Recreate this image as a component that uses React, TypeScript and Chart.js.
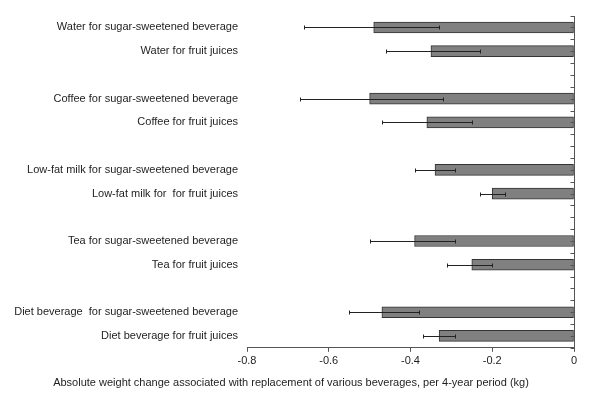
import React, { useEffect, useRef } from "react";
import { Chart, registerables } from "chart.js";

Chart.register(...registerables);

const categories: string[] = [
  "Water for sugar-sweetened beverage",
  "Water for fruit juices",
  "",
  "Coffee for sugar-sweetened beverage",
  "Coffee for fruit juices",
  "",
  "Low-fat milk for sugar-sweetened beverage",
  "Low-fat milk for  for fruit juices",
  "",
  "Tea for sugar-sweetened beverage",
  "Tea for fruit juices",
  "",
  "Diet beverage  for sugar-sweetened beverage",
  "Diet beverage for fruit juices",
];

const weightChange: (number | null)[] = [
  -0.49, -0.35, null, -0.5, -0.36, null, -0.34, -0.2, null, -0.39, -0.25, null, -0.47, -0.33,
];
const ciLower: (number | null)[] = [
  -0.66, -0.46, null, -0.67, -0.47, null, -0.39, -0.23, null, -0.5, -0.31, null, -0.55, -0.37,
];
const ciUpper: (number | null)[] = [
  -0.33, -0.23, null, -0.32, -0.25, null, -0.29, -0.17, null, -0.29, -0.2, null, -0.38, -0.29,
];

const xTitle =
  "Absolute weight change associated with replacement of various beverages, per 4-year period (kg)";

const FONT = "'Liberation Sans', Arial, sans-serif";
const TEXT = "#1e1e1e";
const AXIS = "#555555";

const errorBarPlugin = {
  id: "errorBars",
  afterDatasetsDraw(chart: any) {
    const ctx = chart.ctx;
    const xs = chart.scales.x;
    const ys = chart.scales.y;
    ctx.save();
    ctx.strokeStyle = "#222222";
    ctx.lineWidth = 1;
    for (let i = 0; i < categories.length; i++) {
      const lo = ciLower[i];
      const hi = ciUpper[i];
      if (lo === null || hi === null) continue;
      const y = Math.round(ys.getPixelForValue(i)) + 0.5;
      const x1 = Math.round(xs.getPixelForValue(lo)) + 0.5;
      const x2 = Math.round(xs.getPixelForValue(hi)) + 0.5;
      ctx.beginPath();
      ctx.moveTo(x1, y);
      ctx.lineTo(x2, y);
      ctx.moveTo(x1, y - 2);
      ctx.lineTo(x1, y + 2);
      ctx.moveTo(x2, y - 2);
      ctx.lineTo(x2, y + 2);
      ctx.stroke();
    }
    ctx.restore();
  },
  afterDraw(chart: any) {
    // vertical category axis at x = 0 with inward tick marks
    const ctx = chart.ctx;
    const xs = chart.scales.x;
    const ys = chart.scales.y;
    const x0 = Math.round(xs.getPixelForValue(0)) + 0.5;
    const top = ys.top;
    const bottom = ys.bottom;
    const n = categories.length;
    const h = (bottom - top) / n;
    ctx.save();
    ctx.strokeStyle = AXIS;
    ctx.lineWidth = 1;
    ctx.beginPath();
    ctx.moveTo(x0, Math.round(top));
    ctx.lineTo(x0, Math.round(bottom));
    for (let k = 0; k <= n * 2; k++) {
      const y = Math.round(top + (k * h) / 2) + 0.5;
      ctx.moveTo(x0 - 4, y);
      ctx.lineTo(x0, y);
    }
    ctx.stroke();
    ctx.restore();
  },
};

export default function App() {
  const canvasRef = useRef<HTMLCanvasElement | null>(null);

  useEffect(() => {
    if (!canvasRef.current) return;
    const chart = new Chart(canvasRef.current, {
      type: "bar",
      data: {
        labels: categories,
        datasets: [
          {
            data: weightChange as any,
            backgroundColor: "#808080",
            borderColor: "#333333",
            borderWidth: 1,
            borderSkipped: false,
            barThickness: 11,
          },
        ],
      },
      options: {
        indexAxis: "y",
        animation: false,
        responsive: true,
        maintainAspectRatio: false,
        layout: { padding: { top: 14, right: 28, left: 8, bottom: 0 } },
        plugins: {
          legend: { display: false },
          tooltip: { enabled: false },
          title: {
            display: true,
            position: "bottom",
            text: xTitle,
            color: TEXT,
            font: { family: FONT, size: 11, weight: "normal" },
            padding: { top: 4, bottom: 15 },
          },
        },
        scales: {
          x: {
            type: "linear",
            min: -0.8,
            max: 0,
            ticks: {
              stepSize: 0.2,
              color: TEXT,
              font: { family: FONT, size: 11 },
              padding: 3,
            },
            grid: { drawOnChartArea: false, tickLength: 4, color: AXIS },
            border: { color: AXIS },
            afterFit(scale: any) {
              scale.height = 25;
            },
          },
          y: {
            type: "category",
            position: "left",
            grid: { display: false, drawTicks: false },
            border: { display: false },
            ticks: {
              color: TEXT,
              font: { family: FONT, size: 11 },
              padding: 9,
              autoSkip: false,
            },
            afterFit(scale: any) {
              scale.width = 239;
            },
          },
        },
      },
      plugins: [errorBarPlugin],
    });
    return () => chart.destroy();
  }, []);

  return (
    <div style={{ position: "absolute", left: 0, top: 0, width: 602, height: 405, background: "#fff" }}>
      <canvas ref={canvasRef} />
    </div>
  );
}
